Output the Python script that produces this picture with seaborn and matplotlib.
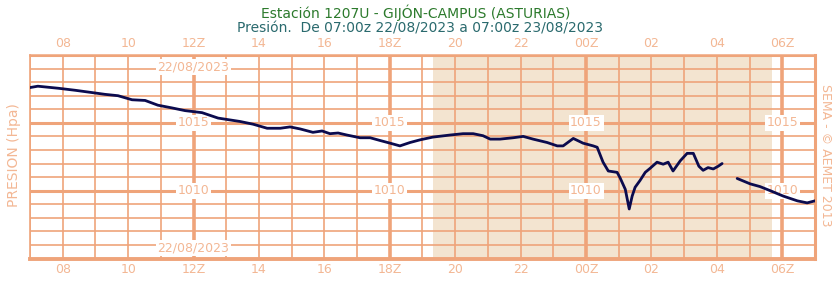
import matplotlib
matplotlib.use("Agg")
import matplotlib.pyplot as plt
import numpy as np
import pandas as pd
import seaborn as sns

# === Datos (horas desde 07:00z 22/08/2023, hPa) ===
horas = [0.0, 0.24, 0.86, 1.38, 1.99, 2.29, 2.69, 3.12, 3.52, 3.91, 4.34, 4.74,
         5.26, 5.75, 6.42, 6.82, 7.25, 7.65, 7.95, 8.26, 8.65, 8.93, 9.17, 9.42,
         9.69, 10.09, 10.40, 10.70, 11.01, 11.31, 11.62, 11.93, 12.32, 12.84,
         13.24, 13.55, 13.85, 14.07, 14.37, 14.77, 15.08, 15.38, 15.81, 16.12,
         16.30, 16.61, 16.91, 17.22, 17.34, 17.52, 17.68, 17.95, 18.04, 18.20,
         18.32, 18.41, 18.50, 18.65, 18.81, 18.96, 19.17, 19.36, 19.51, 19.66,
         19.88, 20.09, 20.28, 20.45, 20.58, 20.73, 20.89, 21.04, 21.16,
         21.62, 22.02, 22.32, 22.63, 23.03, 23.46, 23.76, 24.0]
presion = [1017.6, 1017.7, 1017.55, 1017.4, 1017.2, 1017.1, 1017.0, 1016.7, 1016.65,
           1016.3, 1016.1, 1015.9, 1015.75, 1015.35, 1015.1, 1014.9, 1014.6, 1014.6,
           1014.7, 1014.55, 1014.3, 1014.4, 1014.2, 1014.25, 1014.1, 1013.9, 1013.9,
           1013.7, 1013.5, 1013.3, 1013.55, 1013.75, 1013.95, 1014.1, 1014.2, 1014.2,
           1014.05, 1013.8, 1013.8, 1013.9, 1014.0, 1013.8, 1013.55, 1013.3, 1013.3,
           1013.85, 1013.5, 1013.3, 1013.2, 1012.1, 1011.45, 1011.35, 1010.95, 1010.1,
           1008.65, 1009.6, 1010.25, 1010.75, 1011.35, 1011.65, 1012.1, 1011.95,
           1012.1, 1011.45, 1012.2, 1012.75, 1012.75, 1011.8, 1011.5, 1011.7, 1011.6,
           1011.8, 1012.0,
           1010.9, 1010.5, 1010.3, 1010.0, 1009.6, 1009.25, 1009.1, 1009.25]
tramo = [0] * 73 + [1] * 8   # hueco de datos hacia las 04:20z

etiquetas_x = ["08", "10", "12Z", "14", "16", "18Z", "20", "22", "00Z", "02", "04", "06Z"]
posiciones_x = [1, 3, 5, 7, 9, 11, 13, 15, 17, 19, 21, 23]
noche = (12.31, 22.68)   # sombreado nocturno

GRID = "#efa47a"
TXT = "#f3b794"
df = pd.DataFrame({"h": horas, "p": presion, "tramo": tramo})

sns.set_style("white")
plt.rcParams["font.family"] = ["DejaVu Sans"]

fig = plt.figure(figsize=(8.32, 2.81), dpi=100)
ax = fig.add_axes([30 / 832, 1 - 258.5 / 281, 785 / 832, 203.5 / 281])

ax.axvspan(*noche, color="#f3e4d0", lw=0, zorder=0)

# rejilla
for h in range(0, 25):
    ax.axvline(h, color=GRID, lw=2.6 if h % 6 == 5 else 1.2, zorder=1)
for p in range(1005, 1021):
    ax.axhline(p, color=GRID, lw=2.2 if p % 5 == 0 else 1.2, zorder=1)

box = dict(facecolor="white", edgecolor="none", pad=1.2)
for xh in [5, 11, 17, 23]:
    for p in [1015, 1010]:
        ax.text(xh, p, str(p), ha="center", va="center", color=TXT, fontsize=9,
                bbox=box, zorder=2)
ax.text(5, 1019.1, "22/08/2023", ha="center", va="center", color=TXT, fontsize=9,
        bbox=box, zorder=2)
ax.text(5, 1005.8, "22/08/2023", ha="center", va="center", color=TXT, fontsize=9,
        bbox=box, zorder=2)

sns.lineplot(data=df, x="h", y="p", units="tramo", estimator=None, color="#0b0b4e",
             lw=2, ax=ax, zorder=3)

ax.set_xlim(0, 24)
ax.set_ylim(1005, 1020)
ax.set_xticks(posiciones_x)
ax.set_xticklabels(etiquetas_x)
ax.set_yticks([])
ax.tick_params(axis="x", top=True, labeltop=True, length=0, pad=3.5,
               colors=TXT, labelsize=9)
ax.set_xlabel("")
ax.set_ylabel("")

for lado, w in [("left", 1.2), ("bottom", 2.8), ("top", 1.8), ("right", 2.2)]:
    ax.spines[lado].set_visible(True)
    ax.spines[lado].set_color(GRID)
    ax.spines[lado].set_linewidth(w)

fig.text(416 / 832, 1 - 13 / 281, "Estación 1207U - GIJÓN-CAMPUS (ASTURIAS)",
         ha="center", va="center", color="#2c7a2c", fontsize=10)
fig.text(420 / 832, 1 - 29 / 281, "Presión.  De 07:00z 22/08/2023 a 07:00z 23/08/2023",
         ha="center", va="center", color="#2a6a6e", fontsize=10)
fig.text(14 / 832, 1 - 155 / 281, "PRESION (Hpa)", rotation=90, ha="center",
         va="center", color=TXT, fontsize=10)
fig.text(826 / 832, 1 - 155 / 281, "SEMA - © AEMET 2013", rotation=-90, ha="center",
         va="center", color=TXT, fontsize=9)

fig.savefig("out.png", dpi=100)
